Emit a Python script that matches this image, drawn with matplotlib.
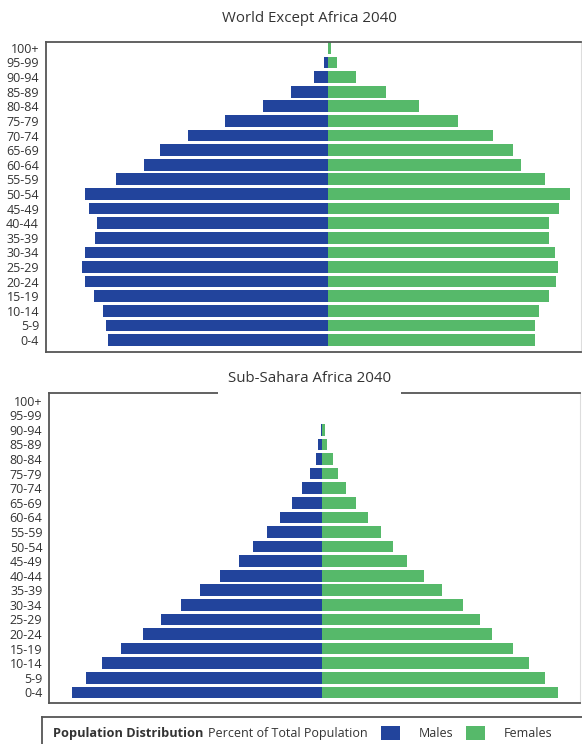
import matplotlib
matplotlib.use("Agg")
from matplotlib import pyplot as plt
from matplotlib.patches import Patch

plt.rcParams['font.family'] = ['Open Sans', 'DejaVu Sans']

age_groups = ["0-4", "5-9", "10-14", "15-19", "20-24", "25-29", "30-34",
              "35-39", "40-44", "45-49", "50-54", "55-59", "60-64", "65-69",
              "70-74", "75-79", "80-84", "85-89", "90-94", "95-99", "100+"]

# World except Africa 2040, percent of total population (young -> old)
world_males = [3.13, 3.15, 3.20, 3.33, 3.45, 3.50, 3.45, 3.32, 3.28, 3.40,
               3.45, 3.01, 2.61, 2.39, 1.99, 1.47, 0.92, 0.52, 0.20, 0.05, 0.0]
world_females = [2.95, 2.95, 3.00, 3.14, 3.25, 3.27, 3.23, 3.14, 3.14, 3.28,
                 3.44, 3.09, 2.75, 2.63, 2.35, 1.85, 1.30, 0.83, 0.40, 0.13, 0.04]

# Sub-Sahara Africa 2040
ssa_males = [6.53, 6.14, 5.74, 5.25, 4.66, 4.19, 3.68, 3.17, 2.67, 2.17,
             1.79, 1.44, 1.09, 0.78, 0.52, 0.32, 0.16, 0.09, 0.03, 0.0, 0.0]
ssa_females = [6.15, 5.81, 5.40, 4.97, 4.43, 4.12, 3.67, 3.14, 2.67, 2.22,
               1.85, 1.54, 1.20, 0.89, 0.63, 0.41, 0.28, 0.13, 0.07, 0.0, 0.0]

blue = "#22449c"
green = "#56b96a"
text_col = "#333333"
spine_col = "#555555"

W, H = 582, 744
fig = plt.figure(figsize=(W / 100, H / 100), dpi=100)


def px_axes(left, top, right, bottom):
    return fig.add_axes([left / W, 1 - bottom / H, (right - left) / W, (bottom - top) / H])


def pyramid(ax, males, females, xlim, ylim):
    y = list(range(len(age_groups)))
    ax.barh(y, [-m for m in males], height=0.8, color=blue)
    ax.barh(y, females, height=0.8, color=green)
    ax.set_xlim(*xlim)
    ax.set_ylim(*ylim)
    ax.set_yticks(y)
    ax.set_yticklabels(age_groups, fontsize=9, color=text_col)
    ax.set_xticks([])
    ax.tick_params(axis='y', length=0, pad=5)
    for s in ["left", "top", "bottom"]:
        ax.spines[s].set_color(spine_col)
        ax.spines[s].set_linewidth(1.3)
    ax.spines["right"].set_color("#dddddd")


ax1 = px_axes(46, 42.3, 581, 352.3)
pyramid(ax1, world_males, world_females, (-4.01, 3.60), (-0.84, 20.38))
fig.text(309 / W, 1 - 19 / H, "World Except Africa 2040", ha="center", va="center",
         fontsize=10.8, color=text_col)

ax2 = px_axes(49.3, 393.3, 580, 702.7)
pyramid(ax2, ssa_males, ssa_females, (-7.11, 6.73), (-0.71, 20.51))
fig.text(309.5 / W, 1 - 378 / H, "Sub-Sahara Africa 2040", ha="center", va="center",
         fontsize=10.8, color=text_col,
         bbox=dict(facecolor="white", edgecolor="none", pad=7))

# legend box at the bottom
lax = px_axes(41.7, 717.3, 590, 744)
lax.set_xticks([])
lax.set_yticks([])
for s in ["right", "bottom"]:
    lax.spines[s].set_visible(False)
for s in ["left", "top"]:
    lax.spines[s].set_color(spine_col)
    lax.spines[s].set_linewidth(1.3)
t1 = lax.text(11.6 / 548.3, 0.41, "Population Distribution", fontsize=9.2,
              fontweight="bold", color=text_col, va="center")
lax.annotate("Percent of Total Population", xy=(1, 0.5), xycoords=t1,
             xytext=(3, 0), textcoords="offset points", va="center",
             fontsize=9, color=text_col)
handles = [Patch(facecolor=blue, label="Males"), Patch(facecolor=green, label="Females")]
leg = lax.legend(handles=handles, ncol=2, loc="center left",
                 bbox_to_anchor=((381 - 41.7) / 548.3, 0.41), frameon=False,
                 fontsize=9, handlelength=1.5, handleheight=1.45,
                 handletextpad=1.5, columnspacing=1.05, borderpad=0, borderaxespad=0)
for t in leg.get_texts():
    t.set_color(text_col)

plt.savefig("out.png", dpi=100)
